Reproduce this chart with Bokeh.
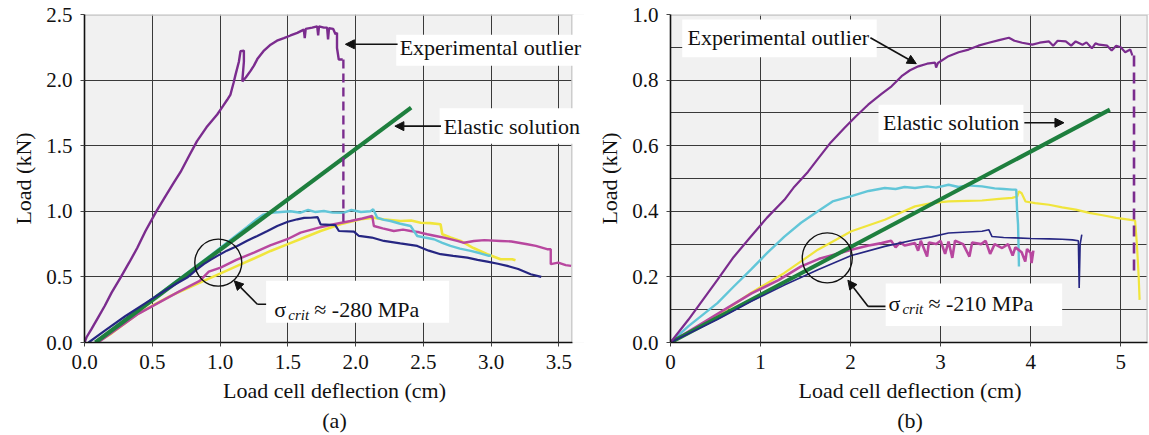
from bokeh.plotting import figure
from bokeh.layouts import row
from bokeh.models import (Label, Arrow, NormalHead, Range1d, FixedTicker, Title,
                          BoxAnnotation, PrintfTickFormatter)
from bokeh.embed import file_html
from bokeh.resources import INLINE

# ---------------- panel (a) data ----------------
a_x_ticks = [0.0, 0.5, 1.0, 1.5, 2.0, 2.5, 3.0, 3.5]
a_y_ticks = [0.0, 0.5, 1.0, 1.5, 2.0, 2.5]

a_outlier_x = [0.0, 0.015, 0.05, 0.1, 0.15, 0.2, 0.266, 0.33, 0.389, 0.45, 0.53, 0.6, 0.66,
               0.709, 0.77, 0.83, 0.9, 0.979, 1.02, 1.053, 1.077, 1.1, 1.114, 1.139, 1.151,
               1.176, 1.176, 1.164, 1.19, 1.225, 1.25, 1.275, 1.32, 1.373, 1.42, 1.471, 1.52, 1.57,
               1.618, 1.625, 1.632, 1.68, 1.717, 1.724, 1.73, 1.766, 1.79, 1.797, 1.804, 1.835,
               1.852, 1.863, 1.863, 1.876, 1.905]
a_outlier_y = [0.0, 0.04, 0.1, 0.19, 0.28, 0.38, 0.495, 0.61, 0.72, 0.85, 1.0, 1.12, 1.22,
               1.3, 1.42, 1.535, 1.64, 1.738, 1.8, 1.85, 1.89, 1.98, 2.04, 2.14, 2.22,
               2.225, 2.14, 1.99, 2.02, 2.07, 2.11, 2.16, 2.22, 2.27, 2.3, 2.32, 2.34, 2.36,
               2.385, 2.32, 2.39, 2.4, 2.41, 2.34, 2.41, 2.4, 2.4, 2.31, 2.395, 2.39,
               2.35, 2.36, 2.245, 2.157, 2.157]
a_outlier_drop_x = [1.91, 1.91]
a_outlier_drop_y = [2.157, 0.92]

a_elastic_x = [0.08, 2.41]
a_elastic_y = [0.0, 1.79]

a_navy_x = [0.03, 0.15, 0.3, 0.45, 0.6, 0.68, 0.758, 0.82, 0.88, 0.93, 0.98, 1.05, 1.127, 1.2,
            1.275, 1.35, 1.422, 1.5, 1.57, 1.62, 1.668, 1.72, 1.742, 1.85, 1.877, 1.988, 2.025,
            2.12, 2.209, 2.33, 2.455, 2.54, 2.627, 2.72, 2.824, 2.9, 2.972, 3.05, 3.119, 3.2,
            3.292, 3.37]
a_navy_y = [0.0, 0.09, 0.2, 0.3, 0.4, 0.45, 0.495, 0.55, 0.597, 0.63, 0.66, 0.7, 0.736, 0.775,
            0.812, 0.85, 0.888, 0.92, 0.939, 0.95, 0.951, 0.955, 0.90, 0.895, 0.85, 0.845, 0.812,
            0.80, 0.774, 0.755, 0.736, 0.70, 0.673, 0.66, 0.647, 0.63, 0.616, 0.60, 0.584, 0.56,
            0.52, 0.5]

a_cyan_x = [0.08, 0.5, 0.9, 1.1, 1.2, 1.27, 1.32, 1.373, 1.45, 1.52, 1.594, 1.65, 1.7, 1.766,
            1.83, 1.914, 1.97, 2.04, 2.11, 2.13, 2.16, 2.21, 2.258, 2.33, 2.406, 2.43, 2.455,
            2.51, 2.578, 2.64, 2.7, 2.77, 2.849, 2.92, 2.984, 3.0]
a_cyan_y = [0.0, 0.33, 0.64, 0.8, 0.88, 0.94, 0.975, 0.989, 0.995, 1.0, 0.989, 1.01, 0.995, 1.002,
            0.99, 0.989, 1.01, 0.995, 1.0, 1.015, 0.951, 0.935, 0.926, 0.905, 0.888, 0.85, 0.812,
            0.80, 0.787, 0.76, 0.736, 0.715, 0.698, 0.68, 0.66, 0.665]

a_yellow_x = [0.09, 0.2, 0.389, 0.5, 0.635, 0.75, 0.88, 1.0, 1.127, 1.25, 1.373, 1.5, 1.618,
              1.742, 1.889, 2.037, 2.135, 2.2, 2.332, 2.41, 2.48, 2.55, 2.627, 2.64, 2.7, 2.775,
              2.87, 2.972, 3.07, 3.156, 3.18]
a_yellow_y = [0.0, 0.07, 0.216, 0.28, 0.355, 0.41, 0.47, 0.525, 0.584, 0.64, 0.698, 0.75, 0.799,
              0.85, 0.901, 0.939, 0.951, 0.94, 0.926, 0.93, 0.913, 0.91, 0.901, 0.825, 0.80, 0.774,
              0.72, 0.673, 0.635, 0.635, 0.627]

a_magenta_x = [0.1, 0.4, 0.7, 0.85, 0.917, 1.004, 1.12, 1.25, 1.37, 1.496, 1.594, 1.729, 1.84,
               1.963, 2.05, 2.123, 2.135, 2.2, 2.282, 2.35, 2.406, 2.47, 2.529, 2.6, 2.652, 2.75,
               2.8, 2.873, 2.95, 3.07, 3.15, 3.267, 3.33, 3.413, 3.44, 3.44, 3.495, 3.55, 3.59]
a_magenta_y = [0.0, 0.22, 0.39, 0.47, 0.54, 0.571, 0.63, 0.685, 0.74, 0.787, 0.837, 0.875, 0.901,
               0.926, 0.945, 0.964, 0.888, 0.87, 0.85, 0.86, 0.85, 0.84, 0.825, 0.81, 0.799, 0.774,
               0.76, 0.774, 0.78, 0.774, 0.77, 0.749, 0.736, 0.711, 0.711, 0.597, 0.609, 0.59, 0.584]

# ---------------- panel (b) data ----------------
b_x_ticks = [0, 1, 2, 3, 4, 5]
b_y_ticks = [0.0, 0.2, 0.4, 0.6, 0.8, 1.0]
b_y_grid = [0.1, 0.2, 0.3, 0.4, 0.5, 0.6, 0.7, 0.8, 0.9, 1.0]

b_outlier_x = [0.0, 0.2, 0.521, 0.7, 0.893, 1.07, 1.265, 1.376, 1.526, 1.637, 1.78, 1.934, 2.06,
               2.195, 2.344, 2.455, 2.567, 2.66, 2.753, 2.85, 2.939, 2.95, 2.97, 3.088, 3.2, 3.311,
               3.42, 3.535, 3.65, 3.758, 3.82, 3.906, 4.018, 4.1, 4.204, 4.25, 4.3, 4.39, 4.45,
               4.5, 4.576, 4.62, 4.68, 4.72, 4.762, 4.85, 4.9, 4.95, 5.0, 5.05, 5.107, 5.13]
b_outlier_y = [0.0, 0.07, 0.191, 0.26, 0.323, 0.38, 0.435, 0.475, 0.52, 0.56, 0.61, 0.655, 0.69,
               0.725, 0.758, 0.781, 0.812, 0.83, 0.842, 0.85, 0.853, 0.838, 0.852, 0.873, 0.885, 0.893,
               0.905, 0.914, 0.922, 0.929, 0.92, 0.914, 0.908, 0.914, 0.918, 0.905, 0.92, 0.918, 0.905,
               0.918, 0.908, 0.915, 0.897, 0.912, 0.908, 0.905, 0.89, 0.905, 0.9, 0.885, 0.893, 0.875]
b_outlier_drop_x = [5.148, 5.148]
b_outlier_drop_y = [0.875, 0.217]

b_elastic_x = [0.0, 4.88]
b_elastic_y = [0.0, 0.71]

b_cyan_x = [0.0, 0.2, 0.521, 0.7, 0.893, 1.08, 1.265, 1.45, 1.637, 1.8, 2.009, 2.2, 2.38, 2.5,
            2.6, 2.716, 2.85, 2.95, 3.088, 3.2, 3.3, 3.46, 3.6, 3.7, 3.795, 3.84, 3.85, 3.86,
            3.865, 3.87]
b_cyan_y = [0.0, 0.05, 0.12, 0.17, 0.222, 0.275, 0.323, 0.365, 0.40, 0.43, 0.446, 0.462, 0.471,
            0.468, 0.474, 0.471, 0.476, 0.472, 0.481, 0.474, 0.479, 0.476, 0.470, 0.468, 0.466,
            0.466, 0.40, 0.36, 0.30, 0.232]

b_yellow_x = [0.0, 0.4, 0.893, 1.265, 1.637, 2.009, 2.38, 2.548, 2.716, 2.9, 3.088, 3.3, 3.46,
              3.65, 3.795, 3.85, 3.87, 3.9, 3.943, 4.05, 4.204, 4.35, 4.501, 4.651, 4.8, 4.95,
              5.107, 5.16, 5.18, 5.2, 5.21]
b_yellow_y = [0.0, 0.06, 0.151, 0.212, 0.283, 0.339, 0.374, 0.395, 0.415, 0.425, 0.43, 0.432,
              0.433, 0.438, 0.441, 0.445, 0.461, 0.455, 0.43, 0.425, 0.42, 0.412, 0.405, 0.395,
              0.388, 0.38, 0.374, 0.372, 0.3, 0.2, 0.13]

b_navy_x = [0.0, 0.521, 0.893, 1.265, 1.637, 2.009, 2.38, 2.716, 2.9, 3.088, 3.3, 3.46, 3.535,
            3.571, 3.7, 3.832, 4.0, 4.204, 4.35, 4.464, 4.53, 4.539, 4.55, 4.568]
b_navy_y = [0.0, 0.07, 0.125, 0.175, 0.222, 0.265, 0.293, 0.313, 0.322, 0.334, 0.337, 0.339,
            0.344, 0.323, 0.32, 0.319, 0.317, 0.316, 0.315, 0.313, 0.31, 0.166, 0.30, 0.329]

b_magenta_x = [0.0, 0.3, 0.6, 0.9, 1.2, 1.451, 1.65, 1.823, 2.009, 2.2, 2.344, 2.45, 2.5, 2.55,
               2.6, 2.716, 2.75, 2.78, 2.85, 2.87, 2.95, 3.0, 3.05, 3.088, 3.13, 3.16, 3.25, 3.32,
               3.35, 3.45, 3.5, 3.55, 3.6, 3.683, 3.75, 3.8, 3.83, 3.9, 3.94, 3.96, 4.0, 4.01, 4.03]
b_magenta_y = [0.0, 0.05, 0.1, 0.15, 0.19, 0.232, 0.255, 0.268, 0.283, 0.296, 0.303, 0.31, 0.29,
               0.305, 0.296, 0.303, 0.28, 0.31, 0.262, 0.305, 0.3, 0.31, 0.27, 0.308, 0.258, 0.31,
               0.30, 0.262, 0.305, 0.30, 0.31, 0.27, 0.30, 0.288, 0.3, 0.265, 0.29, 0.275, 0.247,
               0.285, 0.273, 0.242, 0.28]

SERIF = "Liberation Serif"
INK = "#111111"
EDGE = "#c4c4c4"
C_OUTLIER = "#7b2c8e"
C_ELASTIC = "#1e7f3e"
C_NAVY = "#262682"
C_CYAN = "#62c6d8"
C_YELLOW = "#f0e53c"
C_MAGENTA = "#b8479f"


def make_panel(width, x_end, x_axis_end, y_end, x_ticks, y_ticks, y_grid, x_fmt, border_left,
               letter):
    p = figure(width=width, height=435, output_backend="svg", toolbar_location=None,
               x_range=Range1d(0, x_end), y_range=Range1d(0, y_end),
               min_border_left=border_left, min_border_right=0,
               min_border_top=14, min_border_bottom=93)
    p.background_fill_color = "#f1f1f1"
    p.border_fill_color = "white"
    p.outline_line_color = None

    for ax in (p.xaxis[0], p.yaxis[0]):
        ax.axis_line_color = INK
        ax.axis_line_width = 1.6
        ax.major_tick_in = 0
        ax.major_tick_out = 4
        ax.major_tick_line_color = "#444444"
        ax.minor_tick_line_color = None
        ax.major_label_text_font = SERIF
        ax.major_label_text_font_size = "21px"
        ax.major_label_text_color = INK
        ax.axis_label_text_font = SERIF
        ax.axis_label_text_font_size = "22px"
        ax.axis_label_text_font_style = "normal"
        ax.axis_label_text_color = INK

    p.xaxis.bounds = (0, x_axis_end)
    p.xaxis.ticker = FixedTicker(ticks=x_ticks)
    p.yaxis.ticker = FixedTicker(ticks=y_ticks)
    p.xaxis.formatter = PrintfTickFormatter(format=x_fmt)
    p.yaxis.formatter = PrintfTickFormatter(format="%.1f")
    p.xaxis.major_label_standoff = 8
    p.yaxis.major_label_standoff = 8
    p.xaxis.axis_label = "Load cell deflection (cm)"
    p.yaxis.axis_label = "Load (kN)"
    p.xaxis.axis_label_standoff = 6
    p.yaxis.axis_label_standoff = 7

    p.xgrid.ticker = FixedTicker(ticks=x_ticks)
    p.ygrid.ticker = FixedTicker(ticks=y_grid)
    p.xgrid.grid_line_color = "#3a3a3a"
    p.ygrid.grid_line_color = "#3a3a3a"
    p.xgrid.grid_line_width = 1
    p.ygrid.grid_line_width = 1

    # white strip past the last x value, then the light top/right border
    p.add_layout(BoxAnnotation(left=x_axis_end, right=x_end * 1.05, fill_color="white",
                               fill_alpha=1.0, line_color=None))
    p.line([0, x_axis_end, x_axis_end], [y_end, y_end, 0], line_color=EDGE, line_width=2.5)

    p.add_layout(Title(text=letter, align="center", text_font=SERIF, text_font_size="22px",
                       text_font_style="normal", text_color=INK, standoff=0, offset=0), "below")
    return p


def blank(p, left, right, bottom, top):
    p.add_layout(BoxAnnotation(left=left, right=right, bottom=bottom, top=top,
                               fill_color="white", fill_alpha=1.0, line_color=None))


def text_label(p, x, y, txt):
    p.add_layout(Label(x=x, y=y, text=txt, text_font=SERIF, text_font_size="22px",
                       text_color=INK, text_baseline="middle"))


def pointer(p, xs, ys, xe, ye):
    p.add_layout(Arrow(x_start=xs, y_start=ys, x_end=xe, y_end=ye, line_color=INK, line_width=1.6,
                       end=NormalHead(size=9, fill_color=INK, line_color=INK)))


def sigma_note(p, x, y, value_text):
    base = dict(text_font=SERIF, text_color=INK, text_baseline="alphabetic")
    p.add_layout(Label(x=x, y=y, text="σ", text_font_size="22px", **base))
    p.add_layout(Label(x=x, y=y, x_offset=14, y_offset=-6, text="crit", text_font_size="15px",
                       text_font_style="italic", **base))
    p.add_layout(Label(x=x, y=y, x_offset=40, text=value_text, text_font_size="22px", **base))


# ---------------- panel (a) ----------------
pa = make_panel(584, 3.689, 3.6, 2.5, a_x_ticks, a_y_ticks, a_y_ticks, "%.1f", 84, "(a)")
pa.line(a_yellow_x, a_yellow_y, line_color=C_YELLOW, line_width=2.6)
pa.line(a_magenta_x, a_magenta_y, line_color=C_MAGENTA, line_width=2.4)
pa.line(a_cyan_x, a_cyan_y, line_color=C_CYAN, line_width=2.4)
pa.line(a_elastic_x, a_elastic_y, line_color=C_ELASTIC, line_width=4.2)
pa.line(a_navy_x, a_navy_y, line_color=C_NAVY, line_width=2.2)
pa.line(a_outlier_x, a_outlier_y, line_color=C_OUTLIER, line_width=2.4)
pa.line(a_outlier_drop_x, a_outlier_drop_y, line_color=C_OUTLIER, line_width=2.4, line_dash="9 5")

pa.scatter([0.987], [0.609], size=47, marker="circle", fill_color=None, line_color=INK,
           line_width=1.4)
blank(pa, 1.34, 2.69, 0.15, 0.47)
sigma_note(pa, 1.40, 0.255, "≈ -280 MPa")
pa.line([1.373, 1.275], [0.292, 0.292], line_color=INK, line_width=1.6)
pointer(pa, 1.275, 0.292, 1.105, 0.47)

blank(pa, 2.30, 3.8, 2.11, 2.345)
text_label(pa, 2.325, 2.25, "Experimental outlier")
pointer(pa, 2.31, 2.273, 1.925, 2.273)
blank(pa, 2.62, 3.8, 1.515, 1.785)
text_label(pa, 2.65, 1.649, "Elastic solution")
pointer(pa, 2.63, 1.649, 2.29, 1.649)

# ---------------- panel (b) ----------------
pb = make_panel(565, 5.32, 5.3, 1.0, b_x_ticks, b_y_ticks, b_y_grid, "%d", 86, "(b)")
pb.line(b_yellow_x, b_yellow_y, line_color=C_YELLOW, line_width=2.2)
pb.line(b_cyan_x, b_cyan_y, line_color=C_CYAN, line_width=2.4)
pb.line(b_magenta_x, b_magenta_y, line_color=C_MAGENTA, line_width=2.6)
pb.line(b_elastic_x, b_elastic_y, line_color=C_ELASTIC, line_width=4.0)
pb.line(b_navy_x, b_navy_y, line_color=C_NAVY, line_width=1.6)
pb.line(b_outlier_x, b_outlier_y, line_color=C_OUTLIER, line_width=2.2)
pb.line(b_outlier_drop_x, b_outlier_drop_y, line_color=C_OUTLIER, line_width=2.6, line_dash="11 6")

pb.scatter([1.741], [0.258], size=50, marker="circle", fill_color=None, line_color=INK,
           line_width=1.4)
blank(pb, 2.39, 4.35, 0.05, 0.18)
sigma_note(pb, 2.42, 0.12, "≈ -210 MPa")
pb.line([2.39, 2.195], [0.11, 0.11], line_color=INK, line_width=1.6)
pointer(pb, 2.195, 0.11, 1.97, 0.19)

blank(pb, 0.13, 2.29, 0.87, 0.985)
text_label(pb, 0.19, 0.929, "Experimental outlier")
pointer(pb, 2.22, 0.929, 2.73, 0.85)
blank(pb, 2.31, 3.92, 0.61, 0.725)
text_label(pb, 2.36, 0.67, "Elastic solution")
pointer(pb, 3.93, 0.67, 4.37, 0.67)

layout = row(pa, pb)
open("out.html", "w").write(file_html(layout, INLINE))
